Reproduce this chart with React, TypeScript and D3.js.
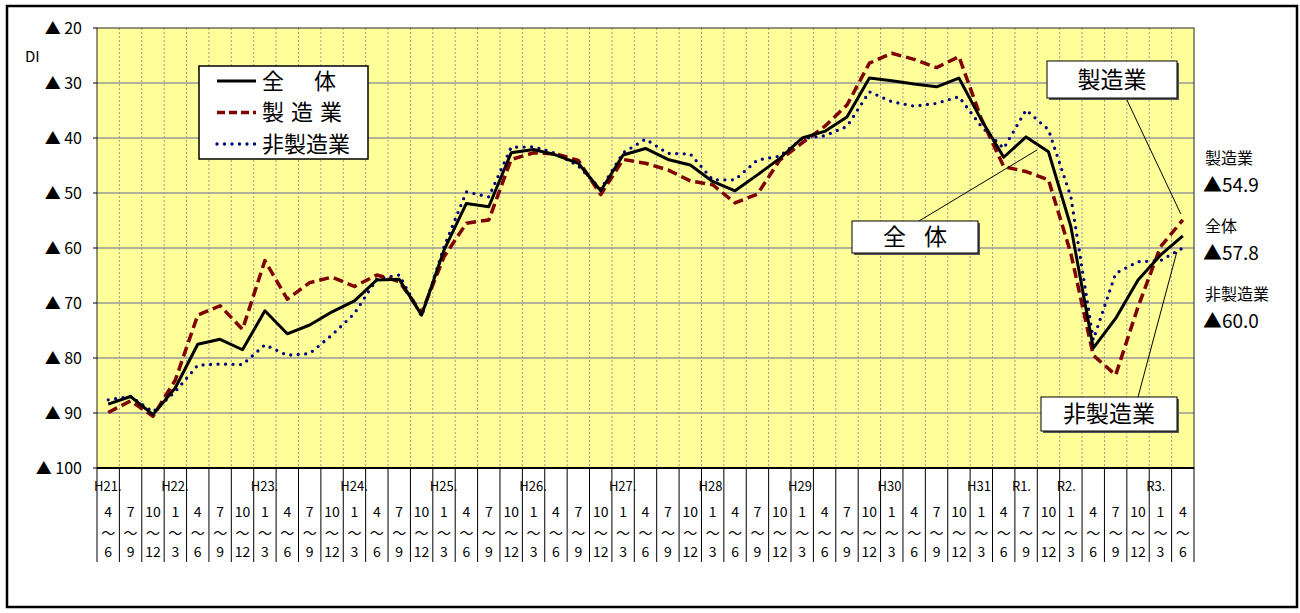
import { FC, useEffect, useRef } from 'react';
import * as d3 from 'd3';

// quarter index 0 = H21 4~6 ... 48 = R3 4~6
const startMonths = [4, 7, 10, 1];
const yearLabels: [number, string][] = [
  [0, 'H21.'], [3, 'H22.'], [7, 'H23.'], [11, 'H24.'], [15, 'H25.'], [19, 'H26.'],
  [23, 'H27.'], [27, 'H28'], [31, 'H29'], [35, 'H30'], [39, 'H31'], [41, 'R1.'],
  [43, 'R2.'], [47, 'R3.'],
];

const total = [
  88.4, 87.0, 90.3, 85.4, 77.5, 76.6, 78.5, 71.4, 75.6, 74.0, 71.6, 69.6, 65.8, 65.7, 72.2,
  60.4, 51.9, 52.5, 42.7, 42.1, 43.1, 44.6, 49.6, 43.1, 41.9, 43.9, 44.9, 47.9, 49.6, 46.7,
  43.7, 40.0, 38.8, 36.2, 29.1, 29.6, 30.2, 30.7, 29.1, 36.7, 43.5, 39.8, 42.5, 56.1, 78.2,
  72.8, 65.8, 61.3, 57.8,
];
const manufacturing = [
  89.9, 87.8, 90.6, 84.0, 72.2, 70.5, 74.8, 62.3, 69.3, 66.3, 65.3, 67.0, 64.9, 66.1, 71.8,
  61.6, 55.5, 54.9, 43.9, 42.7, 42.9, 44.1, 50.3, 43.9, 44.6, 45.8, 47.8, 48.5, 51.8, 50.2,
  44.0, 40.9, 37.9, 34.0, 26.4, 24.6, 25.7, 27.2, 25.2, 36.5, 45.2, 46.1, 47.6, 61.0, 79.5,
  83.1, 70.7, 59.8, 54.9,
];
const nonManufacturing = [
  87.6, 87.0, 89.8, 86.1, 81.3, 81.1, 81.2, 77.6, 79.5, 79.2, 75.8, 71.9, 65.6, 64.9, 72.4,
  59.8, 49.8, 50.7, 41.7, 41.6, 42.8, 45.1, 49.3, 42.7, 40.2, 42.8, 42.9, 47.6, 47.6, 44.0,
  43.3, 40.1, 39.6, 37.9, 31.6, 33.4, 34.2, 33.7, 32.5, 37.9, 41.9, 34.9, 38.5, 50.7, 76.7,
  64.6, 62.5, 62.3, 60.0,
];
const yTicks = [20, 30, 40, 50, 60, 70, 80, 90, 100];

const FONT = '"Noto Sans CJK JP", "Noto Sans", sans-serif';

const series = [
  { name: '全体', data: total, color: '#000000', width: 3, dash: null as string | null, cap: 'butt' },
  { name: '製造業', data: manufacturing, color: '#800000', width: 3.5, dash: '10 5', cap: 'butt' },
  { name: '非製造業', data: nonManufacturing, color: '#000080', width: 3.3, dash: '0 7.5', cap: 'round' },
];

const App: FC = () => {
  const ref = useRef<SVGSVGElement | null>(null);

  useEffect(() => {
    const svg = d3.select(ref.current);
    svg.selectAll('*').remove();

    const left = 97, right = 1194, top = 28, bottom = 468, axisBottom = 562;
    const n = total.length;
    const x = d3.scaleBand<number>().domain(d3.range(n)).range([left, right]);
    const y = d3.scaleLinear().domain([20, 100]).range([top, bottom]);
    const cx = (i: number) => x(i)! + x.bandwidth() / 2;
    const edges = d3.range(n + 1).map(i => left + i * x.step());

    svg.attr('font-family', FONT);

    // outer frame
    svg.append('rect').attr('x', 0).attr('y', 0).attr('width', 1300).attr('height', 613).attr('fill', 'white');
    svg.append('rect')
      .attr('x', 7).attr('y', 6).attr('width', 1290).attr('height', 601)
      .attr('fill', 'none').attr('stroke', 'black').attr('stroke-width', 2.5);

    // plot background
    svg.append('rect')
      .attr('x', left).attr('y', top).attr('width', right - left).attr('height', bottom - top)
      .attr('fill', '#FFFF99');

    // vertical dotted grid
    svg.append('g').selectAll('line').data(edges.slice(1, -1)).enter().append('line')
      .attr('x1', d => d).attr('x2', d => d).attr('y1', top).attr('y2', bottom)
      .attr('stroke', '#9a9a9a').attr('stroke-width', 1).attr('stroke-dasharray', '2 2');

    // horizontal grid
    svg.append('g').selectAll('line').data(yTicks.slice(1, -1)).enter().append('line')
      .attr('x1', left).attr('x2', right).attr('y1', d => y(d)).attr('y2', d => y(d))
      .attr('stroke', '#999999').attr('stroke-width', 1.5);

    svg.append('rect')
      .attr('x', left).attr('y', top).attr('width', right - left).attr('height', bottom - top)
      .attr('fill', 'none').attr('stroke', '#222').attr('stroke-width', 1);
    svg.append('line').attr('x1', left).attr('x2', right).attr('y1', bottom).attr('y2', bottom)
      .attr('stroke', 'black').attr('stroke-width', 2);

    // y axis
    const ya = svg.append('g');
    ya.selectAll('line').data(yTicks).enter().append('line')
      .attr('x1', left - 4).attr('x2', left).attr('y1', d => y(d)).attr('y2', d => y(d))
      .attr('stroke', 'black');
    ya.selectAll('text').data(yTicks).enter().append('text')
      .attr('x', 82).attr('y', d => y(d)).attr('dy', '0.35em')
      .attr('text-anchor', 'end').attr('font-size', 16)
      .text(d => `▲ ${d}`);
    svg.append('text').attr('x', 25).attr('y', 57).attr('dy', '0.35em')
      .attr('font-size', 15).text('DI');

    // category axis table
    const xa = svg.append('g');
    xa.selectAll('line').data(edges).enter().append('line')
      .attr('x1', d => d).attr('x2', d => d).attr('y1', bottom).attr('y2', axisBottom)
      .attr('stroke', 'black').attr('stroke-width', 1);
    xa.selectAll('text.yr').data(yearLabels).enter().append('text')
      .attr('class', 'yr')
      .attr('x', d => x(d[0])! - 3).attr('y', 486).attr('dy', '0.35em')
      .attr('font-size', 13)
      .text(d => d[1]);
    const q = xa.selectAll('g.q').data(d3.range(n)).enter().append('g').attr('class', 'q')
      .attr('font-size', 14).attr('text-anchor', 'middle');
    q.append('text').attr('x', i => cx(i)).attr('y', 512).attr('dy', '0.35em')
      .text(i => String(startMonths[i % 4]));
    q.append('text').attr('x', i => cx(i)).attr('y', 533).attr('dy', '0.35em')
      .text('～');
    q.append('text').attr('x', i => cx(i)).attr('y', 552).attr('dy', '0.35em')
      .text(i => String(startMonths[i % 4] + 2));

    // series lines
    const line = d3.line<number>().x((_, i) => cx(i)).y(d => y(d));
    [series[2], series[1], series[0]].forEach(s => {
      const p = svg.append('path').datum(s.data)
        .attr('d', line).attr('fill', 'none')
        .attr('stroke', s.color).attr('stroke-width', s.width)
        .attr('stroke-linecap', s.cap).attr('stroke-linejoin', 'round');
      if (s.dash) p.attr('stroke-dasharray', s.dash);
    });

    // legend
    const lg = svg.append('g');
    lg.append('rect').attr('x', 199).attr('y', 66).attr('width', 169).attr('height', 93)
      .attr('fill', 'white').attr('stroke', 'black').attr('stroke-width', 1.5);
    const legendNames = [['全', '体'], ['製', '造', '業'], ['非', '製', '造', '業']];
    const gaps = [30, 7, 0];
    series.forEach((s, i) => {
      const yy = 81 + i * 31.5;
      const l = lg.append('line').attr('x1', 217).attr('x2', 256).attr('y1', yy).attr('y2', yy)
        .attr('stroke', s.color).attr('stroke-width', s.width).attr('stroke-linecap', s.cap);
      if (s.dash) l.attr('stroke-dasharray', s.dash === '10 5' ? '8 4' : s.dash);
      const t = lg.append('text').attr('x', 262).attr('y', yy).attr('dy', '0.36em').attr('font-size', 22);
      legendNames[i].forEach((c, k) => {
        t.append('tspan').attr('dx', k === 0 ? 0 : gaps[i]).text(c);
      });
    });

    // callouts
    const callout = (bx: number, by: number, bw: number, bh: number, label: string[], gap: number,
      lx1: number, ly1: number, lx2: number, ly2: number) => {
      svg.append('line').attr('x1', lx1).attr('y1', ly1).attr('x2', lx2).attr('y2', ly2)
        .attr('stroke', 'black').attr('stroke-width', 1);
      svg.append('rect').attr('x', bx + 2).attr('y', by + 2).attr('width', bw).attr('height', bh)
        .attr('fill', '#555');
      svg.append('rect').attr('x', bx).attr('y', by).attr('width', bw).attr('height', bh)
        .attr('fill', 'white').attr('stroke', 'black').attr('stroke-width', 1);
      const t = svg.append('text').attr('x', bx + bw / 2).attr('y', by + bh / 2).attr('dy', '0.36em')
        .attr('text-anchor', 'middle').attr('font-size', 23);
      label.forEach((c, k) => t.append('tspan').attr('dx', k === 0 ? 0 : gap).text(c));
    };
    callout(1047, 61, 130, 37, ['製', '造', '業'], 0, 1126, 98, cx(48) - 2, y(manufacturing[48]) - 6);
    callout(852, 221, 126, 32, ['全', '体'], 18, 919, 221, 1037, 150);
    callout(1041, 397, 136, 34, ['非', '製', '造', '業'], 0, 1138, 397, cx(48) - 6, y(nonManufacturing[48]) + 4);

    // right side values
    const rl = svg.append('g').attr('fill', 'black');
    const rightLabels: [string, number, number][] = [
      ['製造業', manufacturing[48], 158],
      ['全体', total[48], 226],
      ['非製造業', nonManufacturing[48], 294],
    ];
    rightLabels.forEach(([name, v, yy]) => {
      rl.append('text').attr('x', 1205).attr('y', yy).attr('dy', '0.36em').attr('font-size', 16).text(name);
      rl.append('text').attr('x', 1203).attr('y', yy + 27).attr('dy', '0.36em').attr('font-size', 19)
        .text(`▲${v.toFixed(1)}`);
    });
  }, []);

  return (
    <svg ref={ref} width={1300} height={613}
      style={{ position: 'absolute', left: 0, top: 0, display: 'block' }} />
  );
};

export default App;
